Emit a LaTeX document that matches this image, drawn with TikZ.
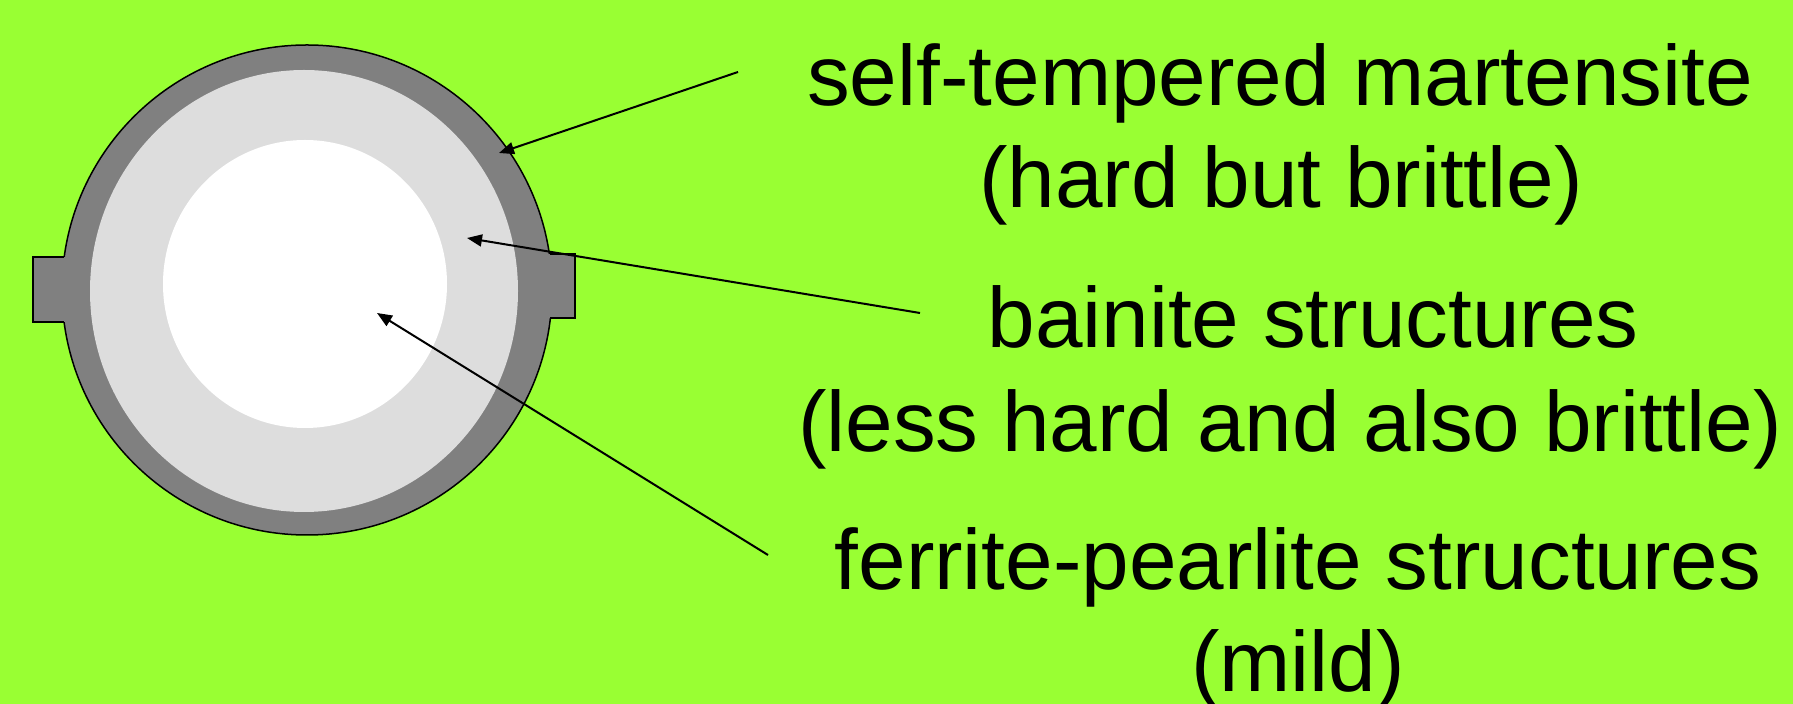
\documentclass[tikz,border=0pt]{standalone}
\usepackage{fontspec}
\setmainfont{Liberation Sans}
\usepackage{tikz}
\usetikzlibrary{arrows.meta}
\definecolor{limegreen}{RGB}{153,255,51}
\definecolor{ringgray}{RGB}{128,128,128}
\definecolor{bainitegray}{RGB}{221,221,221}

\begin{document}
\begin{tikzpicture}[x=0.5pt, y=-0.5pt,
		phasetext/.style={font=\fontsize{42.75pt}{51pt}\selectfont, inner sep=0pt, anchor=base},
		pointer/.style={-{Triangle[length=7.5pt,width=6pt]}, line width=1pt}]
		% Background
		\fill[limegreen] (0,0) rectangle (1793,704);
		\useasboundingbox (0,0) rectangle (1793,704);
		
		% Outer layer with the two tabs
		\filldraw[fill=ringgray, draw=black, line width=0.75pt] (307,290) circle [radius=245];
		\fill[ringgray] (33,257) rectangle (80,322);
		\fill[ringgray] (535,254) rectangle (575,318);
		\draw[line width=0.75pt] (64,257) -| (33,322) -- (64,322);
		\draw[line width=0.75pt] (550,254) -| (575,318) -- (550,318);
		
		% Middle layer and core
		\fill[bainitegray] (304,291) ellipse [x radius=214, y radius=221];
		\fill[white] (305,284) ellipse [x radius=142, y radius=144];
		
		% Arrow ends
		\coordinate (martTip) at (499,153);
		\coordinate (martTail) at (738,72);
		\coordinate (bainTip) at (467,238);
		\coordinate (bainTail) at (920,313);
		\coordinate (ferrTip) at (377,313);
		\coordinate (ferrTail) at (768,555);
		
		\foreach \from/\to in {martTail/martTip, bainTail/bainTip, ferrTail/ferrTip}
		\draw[pointer] (\from) -- (\to);
		
		% Labels
		\node[phasetext] (mart1) at (1280,106) {self-tempered martensite};
		\node[phasetext] (mart2) at (1281,208) {(hard but brittle)};
		\node[phasetext] (bain1) at (1313,348) {bainite structures};
		\node[phasetext] (bain2) at (1290,452) {(less hard and also brittle)};
		\node[phasetext] (ferr1) at (1298,590) {ferrite-pearlite structures};
		\node[phasetext] (ferr2) at (1298,692) {(mild)};
	\end{tikzpicture}
\end{document}
